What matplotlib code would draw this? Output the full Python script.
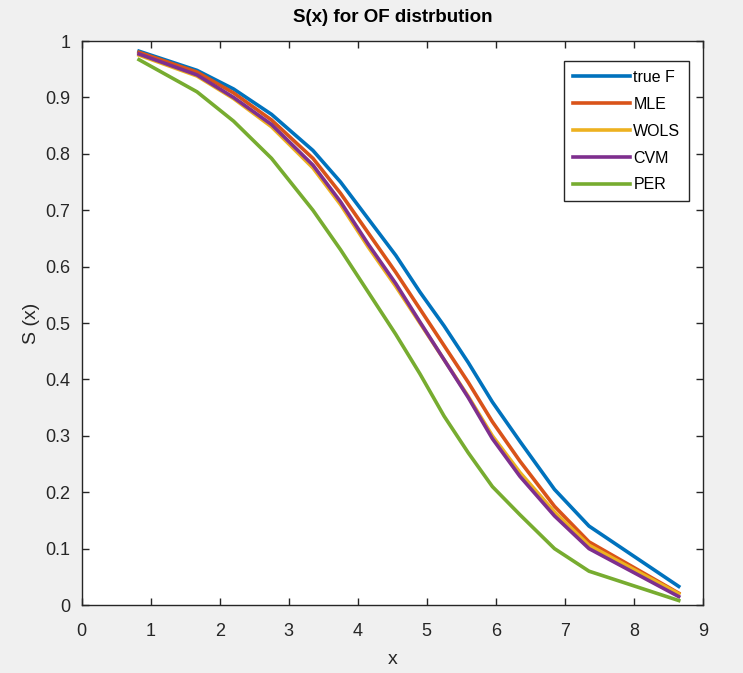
import matplotlib.pyplot as plt
from matplotlib.ticker import FuncFormatter

plt.rcParams['font.family'] = ['Liberation Sans', 'DejaVu Sans']

x = [0.83, 1.67, 2.2, 2.75, 3.35, 3.75, 4.15, 4.55, 4.9, 5.25, 5.6, 5.95, 6.35, 6.85, 7.35, 8.65]
true_f = [0.982, 0.948, 0.915, 0.870, 0.806, 0.750, 0.685, 0.620, 0.555, 0.495, 0.430, 0.360, 0.290, 0.205, 0.140, 0.033]
mle = [0.980, 0.945, 0.908, 0.860, 0.792, 0.730, 0.660, 0.590, 0.525, 0.460, 0.395, 0.325, 0.255, 0.175, 0.112, 0.021]
wols = [0.975, 0.938, 0.898, 0.848, 0.775, 0.710, 0.635, 0.565, 0.500, 0.435, 0.370, 0.300, 0.235, 0.165, 0.106, 0.020]
cvm = [0.977, 0.940, 0.900, 0.852, 0.780, 0.715, 0.640, 0.570, 0.502, 0.435, 0.368, 0.295, 0.228, 0.158, 0.100, 0.015]
per = [0.967, 0.910, 0.858, 0.792, 0.700, 0.630, 0.555, 0.480, 0.410, 0.335, 0.270, 0.210, 0.160, 0.100, 0.060, 0.008]

labels = ["true F", "MLE", "WOLS", "CVM", "PER"]
colors = ["#0072BD", "#D95319", "#EDB120", "#7E2F8E", "#77AC30"]

fig = plt.figure(figsize=(7.43, 6.73), dpi=100, facecolor="#f0f0f0")
ax = fig.add_axes([0.110, 0.101, 0.836, 0.838])

for ys, lab, col in zip([true_f, mle, wols, cvm, per], labels, colors):
    ax.plot(x, ys, color=col, linewidth=2.6, label=lab)

ax.set_xlim(0, 9)
ax.set_ylim(0, 1)
ax.set_xticks(range(10))
ax.set_yticks([i / 10 for i in range(11)])
ax.yaxis.set_major_formatter(FuncFormatter(lambda v, p: f"{v:g}"))
ax.tick_params(direction="in", length=5, width=1, top=True, right=True,
               labelsize=13, colors="#262626")
ax.tick_params(axis="x", pad=13)
ax.tick_params(axis="y", pad=8)
for s in ax.spines.values():
    s.set_color("#262626")
    s.set_linewidth(1)

ax.set_title("S(x) for OF distrbution", fontsize=13.5, fontweight="bold", pad=14)
ax.set_xlabel("x", fontsize=14, color="#262626", labelpad=8)
ax.set_ylabel("S (x)", fontsize=14, color="#262626", labelpad=4)

leg = ax.legend(loc="upper right", bbox_to_anchor=(0.978, 0.965), fancybox=False,
                framealpha=1, edgecolor="#262626", fontsize=11.5, handlelength=3.6,
                borderpad=0.55, labelspacing=0.75, handletextpad=0.2,
                borderaxespad=0)
leg.get_frame().set_linewidth(1)

fig.savefig("out.png", dpi=100, facecolor=fig.get_facecolor())
